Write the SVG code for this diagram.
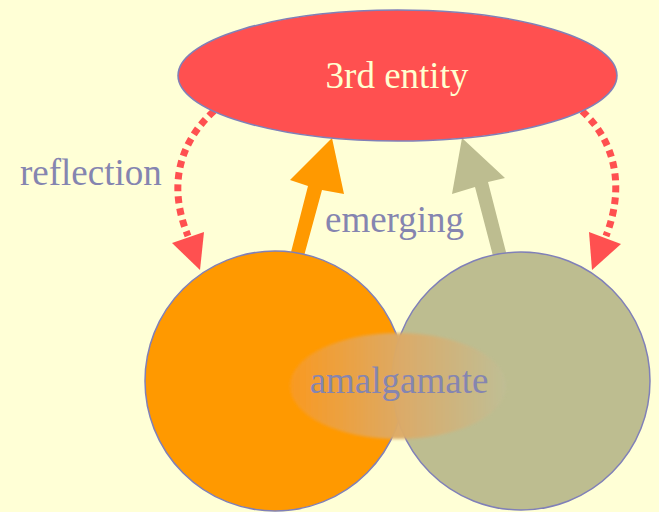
<svg xmlns="http://www.w3.org/2000/svg" width="659" height="512" viewBox="0 0 659 512">
<style>
.lbl{font-family:"Liberation Serif","Times New Roman",serif;font-size:37px;fill:#8585B0}
.dash{fill:none;stroke:#FF5050;stroke-width:7;stroke-dasharray:7 5}
.node{stroke:#8080B8;stroke-width:1.5}
</style>
<defs>
<linearGradient id="amg" x1="0" y1="0" x2="1" y2="0">
<stop offset="0" stop-color="#F99A22"/>
<stop offset="0.5" stop-color="#DDAA66"/>
<stop offset="1" stop-color="#C0BE95"/>
</linearGradient>
<filter id="blur" x="-20%" y="-30%" width="140%" height="160%"><feGaussianBlur stdDeviation="1.8"/></filter>
</defs>
<rect width="659" height="512" fill="#FFFFD6"/>
<g id="connectors">
<path class="dash" d="M214,111 C182,140 166,182 188,236"/>
<polygon points="172,243 204,232 200,270" fill="#FF5050"/>
<path class="dash" d="M582,111 C614,140 626,185 606,236"/>
<polygon points="589,232 621,244 592,270" fill="#FF5050"/>
<polygon points="290,256 304,256 322,190 344,194 332,138 290,180 308,186" fill="#FF9900"/>
<polygon points="493,256 507,256 488,182 505,178 462,138 452,194 475,187" fill="#BDBD90"/>
</g>
<g id="left"><circle class="node" cx="275" cy="381" r="130" fill="#FF9900"/></g>
<g id="right"><circle class="node" cx="521" cy="381" r="129" fill="#BDBD90"/></g>
<g id="amalgamate">
<ellipse cx="398" cy="386" rx="108" ry="53" fill="url(#amg)" opacity="0.97" filter="url(#blur)"/>
<text class="lbl" x="399" y="393" text-anchor="middle">amalgamate</text>
</g>
<g id="entity">
<ellipse class="node" cx="397.5" cy="75.5" rx="219.5" ry="65.5" fill="#FF5050"/>
<text x="397" y="88" text-anchor="middle" style="font-family:'Liberation Serif','Times New Roman',serif;font-size:37px;fill:#FFFFD0">3rd entity</text>
</g>
<g id="labels">
<text class="lbl" x="20" y="185">reflection</text>
<text class="lbl" x="325" y="232">emerging</text>
</g>
</svg>
